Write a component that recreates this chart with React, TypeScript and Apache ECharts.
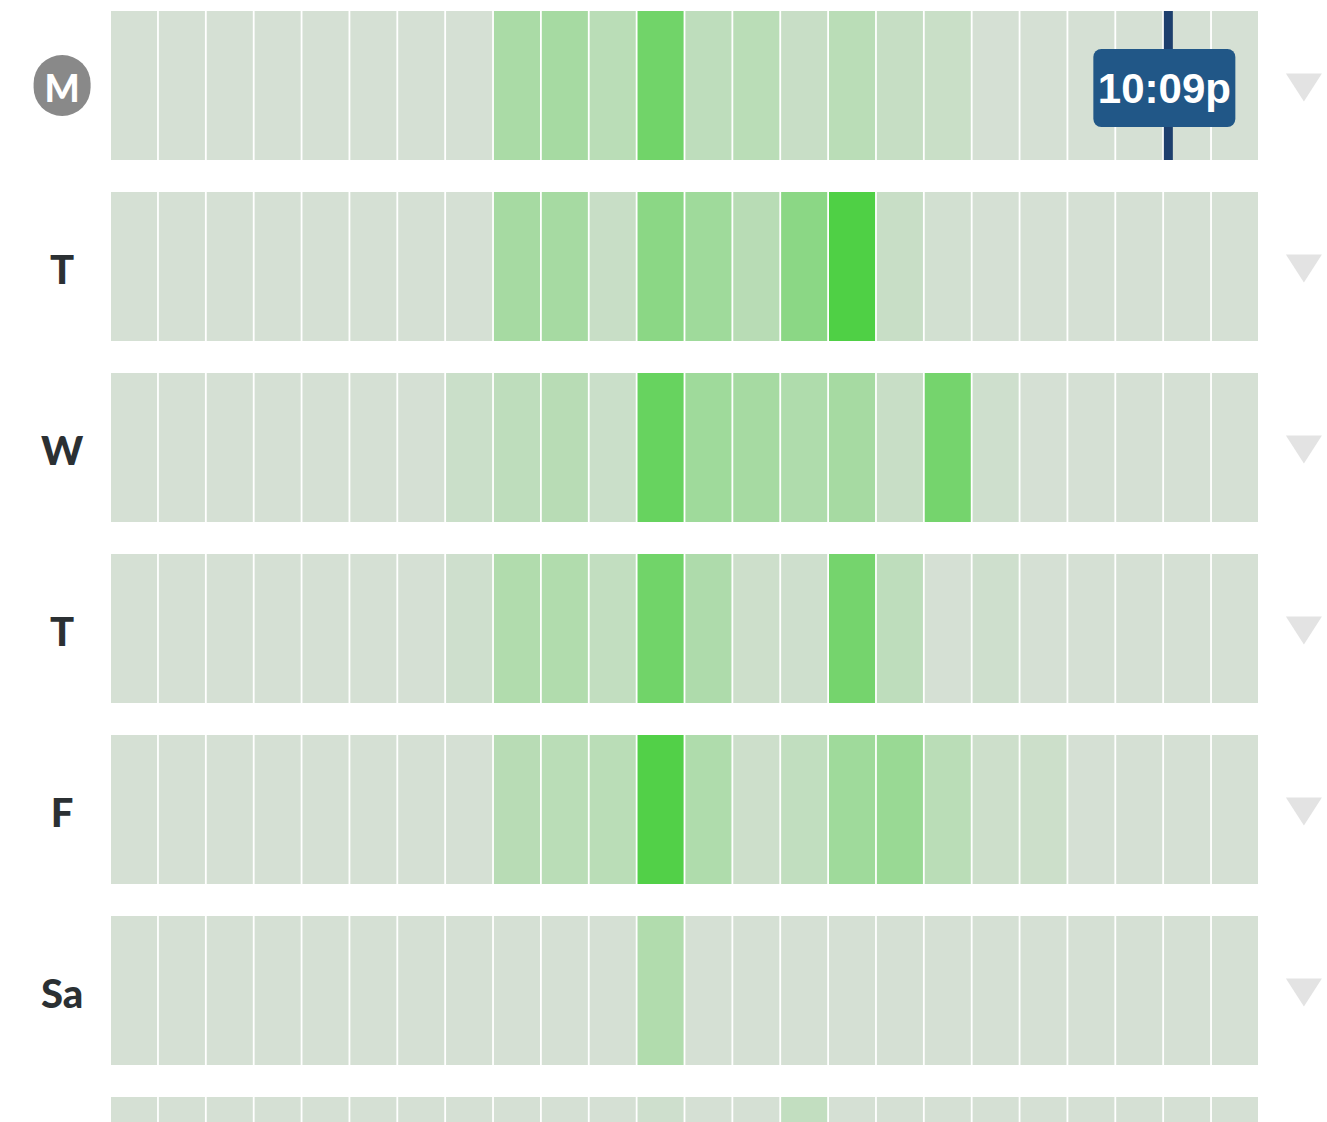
import React, { useEffect, useRef } from "react";
import * as echarts from "echarts";

// hour columns (0 = midnight .. 23 = 11pm)
const hours = [0, 1, 2, 3, 4, 5, 6, 7, 8, 9, 10, 11, 12, 13, 14, 15, 16, 17, 18, 19, 20, 21, 22, 23];
const dayKeys = ["Mon", "Tue", "Wed", "Thu", "Fri", "Sat", "Sun"];
const dayLabels = ["M", "T", "W", "T", "F", "Sa", ""];

// relative activity per hour (0 = none, 100 = busiest)
const monValues = [0, 0, 0, 0, 0, 0, 0, 0, 32, 35, 20, 75, 17, 20, 10, 20, 11, 9, 0, 0, 0, 0, 0, 0];
const tueValues = [0, 0, 0, 0, 0, 0, 0, 0, 35, 35, 10, 55, 40, 22, 55, 100, 10, 2, 0, 0, 0, 0, 0, 0];
const wedValues = [0, 0, 0, 0, 0, 0, 0, 8, 17, 22, 8, 82, 40, 35, 28, 35, 10, 72, 5, 0, 0, 0, 0, 0];
const thuValues = [0, 0, 0, 0, 0, 0, 0, 5, 27, 27, 14, 75, 29, 6, 5, 72, 17, 0, 5, 0, 0, 0, 0, 0];
const friValues = [0, 0, 0, 0, 0, 0, 0, 0, 22, 20, 20, 98, 28, 6, 15, 40, 45, 20, 6, 7, 0, 0, 0, 0];
const satValues = [0, 0, 0, 0, 0, 0, 0, 0, 0, 0, 0, 27, 0, 0, 0, 0, 0, 0, 0, 0, 0, 0, 0, 0];
const sunValues = [0, 0, 0, 0, 0, 0, 0, 0, 0, 0, 0, 5, 0, 0, 14, 0, 0, 0, 0, 0, 0, 0, 0, 0];

const selectedDay = 0;
const nowHour = 22.15;
const nowLabel = "10:09p";

export default function App() {
  const ref = useRef<HTMLDivElement>(null);

  useEffect(() => {
    if (!ref.current) return;
    const chart = echarts.init(ref.current, undefined, { renderer: "svg" });

    const rows = [monValues, tueValues, wedValues, thuValues, friValues, satValues, sunValues];
    const cells: number[][] = [];
    rows.forEach((vals, d) => {
      hours.forEach((h, i) => cells.push([h, d, vals[i]]));
    });

    const CELL_H = 149;

    chart.setOption({
      animation: false,
      backgroundColor: "#ffffff",
      grid: { left: 110.1, right: 68.1, top: 0, height: 1267, containLabel: false },
      xAxis: { type: "value", min: 0, max: 24, show: false },
      yAxis: {
        type: "category",
        inverse: true,
        data: dayKeys,
        axisLine: { show: false },
        axisTick: { show: false },
        splitLine: { show: false },
        axisLabel: {
          interval: 0,
          align: "center",
          margin: 48,
          formatter: (_v: string, idx: number) => {
            const t = dayLabels[idx];
            if (!t) return "";
            return idx === selectedDay ? `{sel|${t}}` : `{day|${t}}`;
          },
          rich: {
            sel: {
              backgroundColor: "#898989",
              color: "#ffffff",
              width: 57,
              height: 57,
              lineHeight: 57,
              borderRadius: 28.5,
              align: "center",
              fontSize: 37,
              fontWeight: 900,
              fontFamily: "Lato",
              padding: [4, 0, 0, 0],
            },
            day: {
              color: "#2b3033",
              fontSize: 40,
              fontWeight: 900,
              fontFamily: "Lato",
              padding: [4, 0, 0, 0],
            },
          },
        },
      },
      visualMap: {
        show: false,
        seriesIndex: 0,
        dimension: 2,
        min: 0,
        max: 100,
        inRange: { color: ["#d5e0d4", "#4fd045"] },
      },
      series: [
        {
          type: "custom",
          encode: { x: 0, y: 1 },
          data: cells,
          clip: false,
          renderItem: (_p: any, api: any) => {
            const h = api.value(0);
            const d = api.value(1);
            const p0 = api.coord([h, d]);
            const p1 = api.coord([h + 1, d]);
            return {
              type: "rect",
              shape: {
                x: p0[0] + 0.9,
                y: p0[1] - CELL_H / 2,
                width: p1[0] - p0[0] - 1.8,
                height: CELL_H,
              },
              style: { fill: api.visual("color") },
            };
          },
        },
        {
          type: "custom",
          encode: { x: 0, y: 1 },
          data: [[nowHour, selectedDay]],
          clip: false,
          z: 5,
          renderItem: (_p: any, api: any) => {
            const p = api.coord([api.value(0), api.value(1)]);
            const cx = p[0] - 2;
            const cy = p[1];
            return {
              type: "group",
              children: [
                {
                  type: "rect",
                  shape: { x: cx - 4.5, y: cy - CELL_H / 2, width: 9, height: CELL_H },
                  style: { fill: "#1d3f6d" },
                },
                {
                  type: "rect",
                  shape: { x: cx - 4 - 71, y: cy + 2.5 - 39, width: 142, height: 78, r: 8 },
                  style: { fill: "#215787" },
                },
                {
                  type: "text",
                  x: cx - 4,
                  y: cy + 3,
                  style: {
                    text: nowLabel,
                    fill: "#ffffff",
                    font: 'bold 42px "Liberation Sans"',
                    align: "center",
                    verticalAlign: "middle",
                  },
                },
              ],
            };
          },
        },
        {
          type: "custom",
          encode: { x: 0, y: 1 },
          data: dayKeys.map((_k, d) => [24, d]),
          clip: false,
          renderItem: (_p: any, api: any) => {
            const p = api.coord([api.value(0), api.value(1)]);
            const cx = p[0] + 45;
            const cy = p[1] + 2;
            return {
              type: "polygon",
              shape: {
                points: [
                  [cx - 18, cy - 14],
                  [cx + 18, cy - 14],
                  [cx, cy + 14],
                ],
              },
              style: { fill: "#e3e3e3" },
            };
          },
        },
      ],
    });

    return () => chart.dispose();
  }, []);

  return (
    <div
      ref={ref}
      style={{ position: "fixed", left: 0, top: -5, width: 1327, height: 1272 }}
    />
  );
}
